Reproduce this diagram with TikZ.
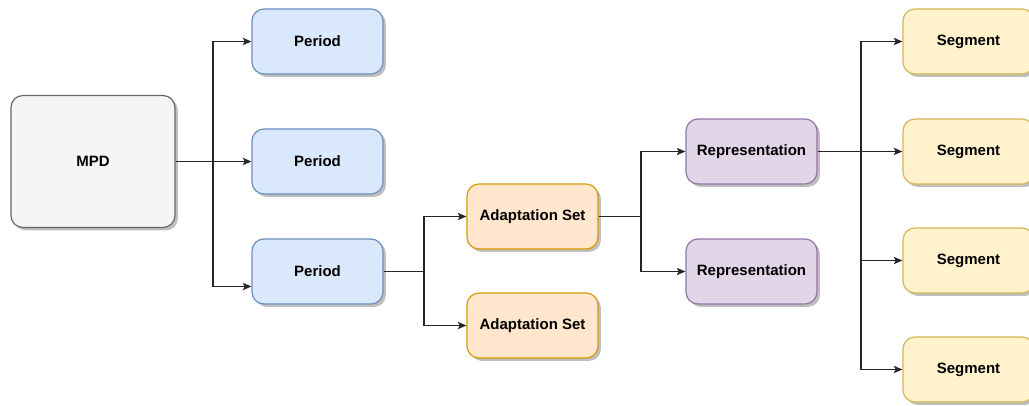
\documentclass[tikz,border=0pt]{standalone}
\usepackage{fontspec}
\setmainfont{Liberation Sans}
\usetikzlibrary{arrows.meta,shadows,calc}

\definecolor{grayfill}{HTML}{F5F5F5}\definecolor{grayline}{HTML}{666666}
\definecolor{bluefill}{HTML}{DAE8FC}\definecolor{blueline}{HTML}{6C8EBF}
\definecolor{orangefill}{HTML}{FFE6CC}\definecolor{orangeline}{HTML}{D79B00}
\definecolor{purplefill}{HTML}{E1D5E7}\definecolor{purpleline}{HTML}{9673A6}
\definecolor{yellowfill}{HTML}{FFF2CC}\definecolor{yellowline}{HTML}{D6B656}

\tikzset{
  box/.style={rounded corners=9pt, line width=0.9pt, minimum width=98.25pt,
    minimum height=48.75pt, inner sep=0pt,
    font=\fontsize{11.25}{13}\selectfont\bfseries,
    drop shadow={shadow xshift=2.2pt, shadow yshift=-2.2pt, fill=black!25, opacity=1}},
  mpdbox/.style={box, fill=grayfill, draw=grayline, minimum width=123pt, minimum height=99pt},
  periodbox/.style={box, fill=bluefill, draw=blueline},
  adaptbox/.style={box, fill=orangefill, draw=orangeline},
  repbox/.style={box, fill=purplefill, draw=purpleline},
  segbox/.style={box, fill=yellowfill, draw=yellowline},
  link/.style={line width=0.8pt, draw=black!85,
    -{Stealth[length=6.5pt, width=5.5pt, inset=1.5pt]}},
  plain/.style={line width=0.8pt, draw=black!85}
}

\begin{document}
\begin{tikzpicture}[x=0.75pt, y=-0.75pt]
  \useasboundingbox (0,0) rectangle (1029,405);
  \clip (0,0) rectangle (1029,405);

  % boxes
  \node[mpdbox] (mpd) at (93,161.5) {MPD};
  \node[periodbox] (p1) at (317.5,41.5) {Period};
  \node[periodbox] (p2) at (317.5,161.5) {Period};
  \node[periodbox] (p3) at (317.5,271.5) {Period};
  \node[adaptbox] (a1) at (532.5,216.5) {Adaptation Set};
  \node[adaptbox] (a2) at (532.5,325.5) {Adaptation Set};
  \node[repbox] (r1) at (751.5,151.5) {Representation};
  \node[repbox] (r2) at (751.5,271.5) {Representation};
  \node[segbox] (s1) at (968.5,41.5) {Segment};
  \node[segbox] (s2) at (968.5,151.5) {Segment};
  \node[segbox] (s3) at (968.5,260.5) {Segment};
  \node[segbox] (s4) at (968.5,369.5) {Segment};

  % junction points of the orthogonal connectors
  \coordinate (j1) at (213,161.5);
  \coordinate (j2) at (424,271.5);
  \coordinate (j3) at (641,216.5);
  \coordinate (j4) at (861,151.5);
  \coordinate (p3in) at ($(p3.west)+(0,15)$);

  % MPD -> periods
  \draw[link] (mpd.east) -- (p2.west);
  \draw[link] (j1) |- (p1.west);
  \draw[link] (j1) |- (p3in);

  % period -> adaptation sets
  \draw[plain] (p3.east) -- (j2);
  \draw[link] (j2) |- (a1.west);
  \draw[link] (j2) |- (a2.west);

  % adaptation set -> representations
  \draw[plain] (a1.east) -- (j3);
  \draw[link] (j3) |- (r1.west);
  \draw[link] (j3) |- (r2.west);

  % representation -> segments
  \draw[link] (r1.east) -- (s2.west);
  \draw[link] (j4) |- (s1.west);
  \draw[link] (j4) |- (s3.west);
  \draw[link] (j4) |- (s4.west);
\end{tikzpicture}
\end{document}
